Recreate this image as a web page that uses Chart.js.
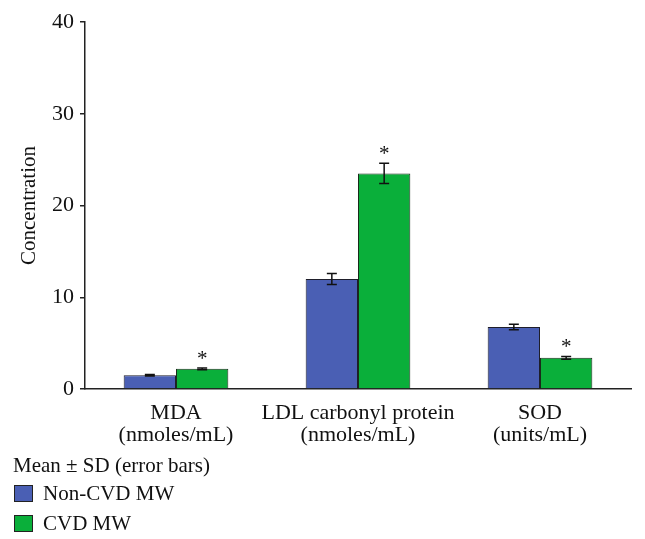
<!DOCTYPE html>
<html>
<head>
<meta charset="utf-8">
<script src="https://cdn.jsdelivr.net/npm/chart.js@4.4.1/dist/chart.umd.min.js"></script>
<style>
  body { margin: 0; background: #fff; }
  #wrap { position: relative; width: 645px; height: 539px; }
  #legend { position: absolute; left: 13px; top: 452px; font-family: "Liberation Serif", "DejaVu Serif", serif; font-size: 21px; color: #111; }
  #legend .row { display: flex; align-items: center; height: 30px; }
  #legend .title { height: 26px; line-height: 26px; }
  #legend .box { width: 17px; height: 15px; border: 1px solid #222; margin-right: 10px; margin-left: 1px; }
</style>
</head>
<body>
<div id="wrap">
  <canvas id="myChart" width="645" height="539"></canvas>
  <div id="legend">
    <div class="title">Mean ± SD (error bars)</div>
    <div class="row"><span class="box" style="background:#4a5fb4"></span>Non-CVD MW</div>
    <div class="row"><span class="box" style="background:#0aaf3a"></span>CVD MW</div>
  </div>
</div>
<script>
// data
var categories = [["MDA", "(nmoles/mL)"], ["LDL carbonyl protein", "(nmoles/mL)"], ["SOD", "(units/mL)"]];
var nonCvd = [1.5, 12.0, 6.75];
var nonCvdSd = [0.08, 0.6, 0.3];
var cvd = [2.2, 23.5, 3.4];
var cvdSd = [0.1, 1.1, 0.15];
var cvdStar = [true, true, true];
var yTicks = [0, 10, 20, 30, 40];

var serif = "'Liberation Serif', 'DejaVu Serif', serif";

// error bars + asterisks
var errorBars = {
  id: 'errorBars',
  afterDatasetsDraw: function(chart) {
    var ctx = chart.ctx;
    var y = chart.scales.y;
    var sds = [nonCvdSd, cvdSd];
    ctx.save();
    ctx.strokeStyle = '#111';
    ctx.lineWidth = 1.5;
    chart.data.datasets.forEach(function(ds, di) {
      var meta = chart.getDatasetMeta(di);
      meta.data.forEach(function(bar, i) {
        var v = ds.data[i], sd = sds[di][i];
        var top = y.getPixelForValue(v + sd);
        var bot = y.getPixelForValue(v - sd);
        ctx.beginPath();
        ctx.moveTo(bar.x, top); ctx.lineTo(bar.x, bot);
        ctx.moveTo(bar.x - 5, top); ctx.lineTo(bar.x + 5, top);
        ctx.moveTo(bar.x - 5, bot); ctx.lineTo(bar.x + 5, bot);
        ctx.stroke();
        if (di == 1 && cvdStar[i]) {
          ctx.fillStyle = '#111';
          ctx.font = '21px ' + serif;
          ctx.textAlign = 'center';
          ctx.textBaseline = 'alphabetic';
          ctx.fillText('*', bar.x, top - 3);
        }
      });
    });
    ctx.restore();
  }
};

new Chart(document.getElementById('myChart'), {
  type: 'bar',
  data: {
    labels: categories,
    datasets: [
      { label: 'Non-CVD MW', data: nonCvd, backgroundColor: '#4a5fb4', borderColor: '#1e1e2a', borderWidth: 1 },
      { label: 'CVD MW', data: cvd, backgroundColor: '#0aaf3a', borderColor: '#1a2a1a', borderWidth: 1 }
    ]
  },
  options: {
    responsive: false,
    animation: false,
    layout: { padding: { top: 22, right: 14, bottom: 80, left: 0 } },
    plugins: { legend: { display: false }, tooltip: { enabled: false } },
    datasets: { bar: { categoryPercentage: 0.575, barPercentage: 1 } },
    scales: {
      x: {
        grid: { display: false },
        border: { color: '#222', width: 1.5 },
        ticks: { color: '#111', font: { family: serif, size: 22, lineHeight: 1.0 }, padding: 5, maxRotation: 0, autoSkip: false },
        afterFit: function(s) { s.height = 70; }
      },
      y: {
        min: 0, max: 40,
        afterBuildTicks: function(s) { s.ticks = yTicks.map(function(v) { return { value: v }; }); },
        grid: { drawOnChartArea: false, drawTicks: true, tickLength: 5, color: '#222', lineWidth: 1.5 },
        border: { color: '#222', width: 1.5 },
        ticks: { color: '#111', font: { family: serif, size: 22 }, padding: 6 },
        title: { display: true, text: 'Concentration', color: '#111', font: { family: serif, size: 21 }, padding: { top: 17, bottom: 0 } },
        afterFit: function(s) { s.width = 85; }
      }
    }
  },
  plugins: [errorBars]
});
</script>
</body>
</html>
